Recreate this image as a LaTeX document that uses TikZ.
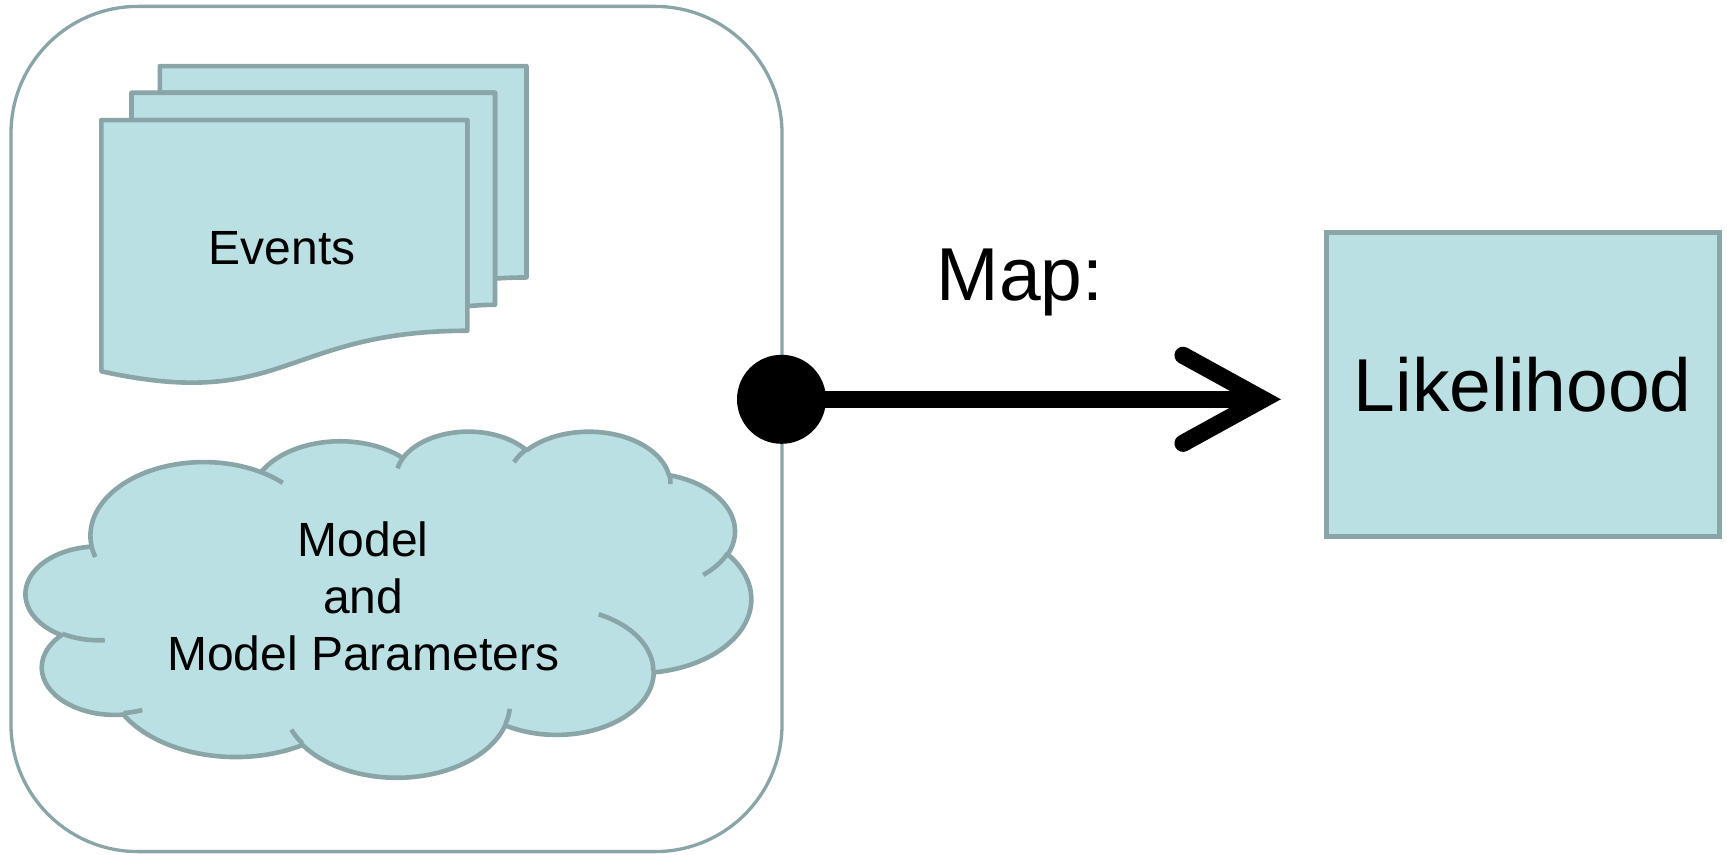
\documentclass[tikz,border=0pt]{standalone}
\usepackage{fontspec}
\setmainfont{Liberation Sans}
\definecolor{shapefill}{RGB}{187,224,227}
\definecolor{shapeline}{RGB}{137,165,167}
\newcommand\txtsmall{\fontsize{24pt}{28.65pt}\selectfont}
\newcommand\txtlarge{\fontsize{37.5pt}{44pt}\selectfont}
% elliptical arc given by a visual start angle and a sweep (clockwise on screen)
\newcommand\cloudarc[4]{arc[start angle={pang(#3,#1,#2)}, delta angle={mod(pang(#3+#4,#1,#2)-pang(#3,#1,#2)+720,360)}, x radius=#1, y radius=#2]}
\tikzset{
  declare function={pang(\a,\w,\h)=atan2(\w*sin(\a),\h*cos(\a));},
  lineart/.style={draw=shapeline, line width=2.3pt, line join=round},
  shapebody/.style={lineart, fill=shapefill},
  groupbox/.style={draw=shapeline, line width=1.65pt, rounded corners=63.5pt, inner sep=0pt, outer sep=0pt},
  txt/.style={inner sep=0pt, outer sep=0pt, text=black},
  shaft/.style={line width=8.6pt},
}
\begin{document}
\begin{tikzpicture}[x=0.5pt,y=-0.5pt]
\useasboundingbox (0,0) rectangle (1727,855);

% outer group frame
\node[groupbox, minimum width=385.5pt, minimum height=422.6pt] (group) at (396.5,429) {};

% stack of documents
\begin{scope}[shift={(101.3,66.1)}, x=0.98426pt, y=-0.73426pt]
  \path[shapebody] (29.72,18.15) -- (29.72,0) -- (216,0) -- (216,143.92)
     .. controls (208,143.92) and (200,144.67) .. (200,144.67) -- (200,18.15) -- cycle;
  \path[shapebody] (15.32,36.75) -- (15.32,18.15) -- (200,18.15) -- (200,162.52)
     .. controls (192.98,162.52) and (185.95,163.52) .. (185.95,163.52) -- (185.95,36.75) -- cycle;
  \path[shapebody] (0,36.75) -- (185.95,36.75) -- (185.95,180.22)
     .. controls (92.98,180.22) and (92.98,235.42) .. (0,207.82) -- cycle;
\end{scope}
\node[txt, font=\txtsmall, anchor=base] (events) at (282,265) {Events};

% cloud
\begin{scope}[shift={(26,430.5)}, x=0.83912pt, y=-0.40046pt]
  \path[shapebody] (39.00,143.70)
    \cloudarc{67.53}{91.90}{-190.4875}{123.7805}
    \cloudarc{53.33}{72.67}{-144.1024}{89.9452}
    \cloudarc{43.65}{59.45}{-145.8079}{99.7230}
    \cloudarc{48.57}{65.95}{-130.9861}{117.2417}
    \cloudarc{53.33}{72.73}{-78.7089}{109.0269}
    \cloudarc{67.75}{92.20}{-46.2673}{130.2690}
    \cloudarc{57.85}{78.67}{0.6250}{114.0333}
    \cloudarc{67.52}{92.15}{22.4516}{115.1726}
    \cloudarc{77.20}{105.43}{66.2426}{75.7110}
    \cloudarc{43.60}{59.18}{-274.9421}{146.7356}
    \cloudarc{43.45}{59.45}{-246.8285}{152.5189}
    -- cycle;
  \path[lineart]
    (46.93,261.77) \cloudarc{43.45}{59.45}{86.7420}{26.4295}
    (69.28,348.99) \cloudarc{43.60}{59.18}{73.6105}{11.4475}
    (164.78,390.90) \cloudarc{67.52}{92.15}{137.6242}{14.0811}
    (288.27,347.51) \cloudarc{67.52}{92.15}{6.4533}{15.9984}
    (341.29,229.54) \cloudarc{57.85}{78.67}{-70.2924}{70.9174}
    (417.98,153.54) \cloudarc{53.33}{72.73}{30.3180}{27.7515}
    (383.24,54.26) \cloudarc{48.57}{65.95}{-13.7443}{14.8589}
    (290.78,39.52) \cloudarc{48.57}{65.95}{-149.1815}{18.1954}
    (221.41,47.20) \cloudarc{43.65}{59.45}{-163.4943}{17.6864}
    (140.00,51.92) \cloudarc{67.53}{91.90}{-66.7070}{12.3194}
    (41.27,157.89) \cloudarc{67.53}{91.90}{157.6544}{11.8582};
\end{scope}
\node[txt, font=\txtsmall, align=center] (model) at (363.3,596.4) {Model\\and\\Model Parameters};

% result box
\node[shapebody, line width=2.5pt, line join=miter, minimum width=196.6pt, minimum height=152pt, inner sep=0pt, outer sep=0pt, font=\txtlarge] (lik) at (1522.7,384.4) {Likelihood};

% mapping arrow
\node[circle, fill=black, inner sep=0pt, minimum size=44.5pt] (dot) at (781.5,399.3) {};
\coordinate (tip) at (1263,399.3);
\draw[shaft] (dot.center) -- (tip);
\draw[shaft, line cap=round, line join=miter] ([shift={(-80,-44)}]tip) -- (tip) -- ([shift={(-80,44)}]tip);
\node[txt, font=\txtlarge, anchor=base] (map) at (1020,301) {Map:};
\end{tikzpicture}
\end{document}
